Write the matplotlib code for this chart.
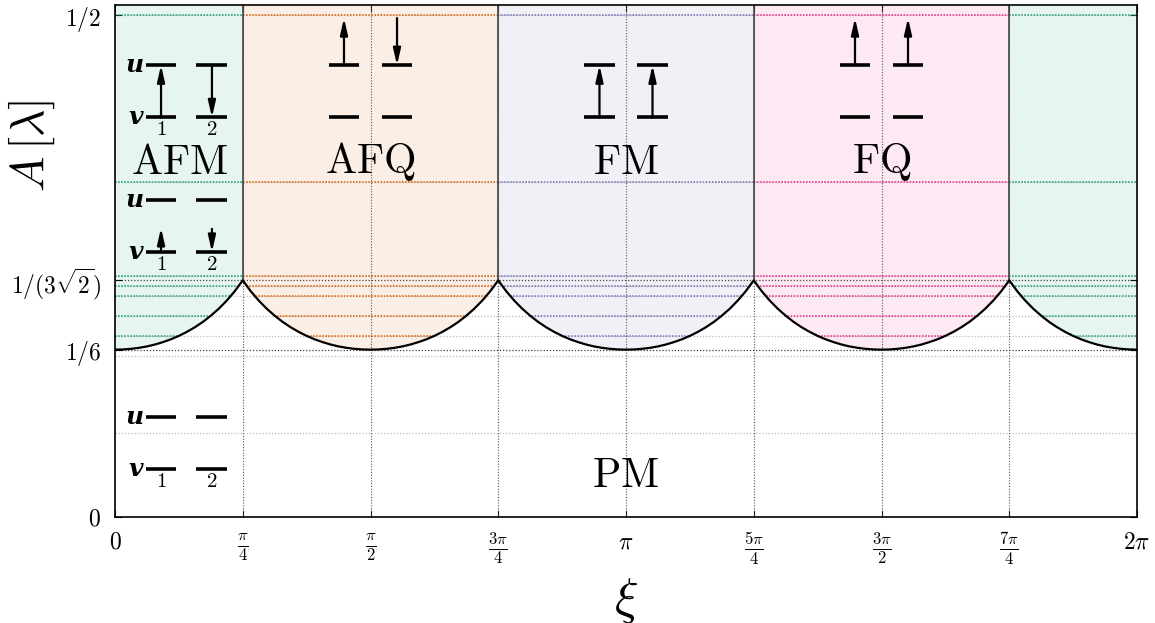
import numpy as np
import matplotlib.pyplot as plt
from matplotlib.patches import Polygon

plt.rcParams['mathtext.fontset'] = 'cm'
plt.rcParams['font.family'] = 'DejaVu Serif'

PI = np.pi

# === Data ===
# boundary A(xi) on one rising arc, xi = 0 .. pi/4 (step pi/64)
arc_A = [0.1667, 0.1669, 0.1675, 0.1685, 0.1699, 0.1718, 0.1742, 0.1770,
         0.1804, 0.1844, 0.1890, 0.1943, 0.2005, 0.2075, 0.2156, 0.2249, 0.2357]

xticks = [0, PI/4, PI/2, 3*PI/4, PI, 5*PI/4, 3*PI/2, 7*PI/4, 2*PI]
xtick_labels = [r'$0$', r'$\frac{\pi}{4}$', r'$\frac{\pi}{2}$', r'$\frac{3\pi}{4}$', r'$\pi$',
                r'$\frac{5\pi}{4}$', r'$\frac{3\pi}{2}$', r'$\frac{7\pi}{4}$', r'$2\pi$']
yticks = [0, 1/6, 1/(3*np.sqrt(2)), 1/2]
ytick_labels = [r'$0$', r'$1/6$', r'$1/(3\sqrt{2})$', r'$1/2$']

# dotted levels inside the ordered phases
phase_levels = [0.5, 1/3, 0.240, 0.230, 0.220, 0.200, 0.180]
# extra grey grid levels
grey_levels = [1/12, 0.160, 0.180, 0.200, 0.220, 0.230, 0.240, 1/3, 0.5]
dark_levels = [1/6, 1/(3*np.sqrt(2))]

phase_names = ['AFM', 'AFQ', 'FM', 'FQ']
phase_spans = [[(0, PI/4), (7*PI/4, 2*PI)], [(PI/4, 3*PI/4)], [(3*PI/4, 5*PI/4)], [(5*PI/4, 7*PI/4)]]
phase_colors = ['#1b9e77', '#d95f02', '#7570b3', '#e7298a']
label_pos = [(0.40, 0.354), (PI/2, 0.354), (PI, 0.354), (3*PI/2, 0.354)]

YTOP = 0.51

# full boundary curve from the arc (rise to cusp, then mirror down), 4 periods
arc_x = np.linspace(0, PI/4, len(arc_A))
xs, ys = [], []
for k in range(4):
    x0 = k * PI/2
    xs += list(x0 + arc_x) + list(x0 + PI/2 - arc_x[::-1])[1:]
    ys += list(arc_A) + list(arc_A[::-1])[1:]
xs = np.array(xs); ys = np.array(ys)

fig = plt.figure(figsize=(11.55, 6.23), dpi=100)
ax = fig.add_axes([115/1155, 1 - 517/623, 1022/1155, 512/623])
ax.set_xlim(0, 2*PI)
ax.set_ylim(0, YTOP)

# grid
for x in xticks[1:-1]:
    ax.axvline(x, color='#555555', ls=(0, (1, 1.5)), lw=0.8, zorder=3)
for y in grey_levels:
    ax.axhline(y, color='#bbbbbb', ls=(0, (1, 1.5)), lw=0.9, zorder=1)
for y in dark_levels:
    ax.axhline(y, color='#444444', ls=(0, (1, 1.5)), lw=0.9, zorder=1)

# phases
for name, spans, col in zip(phase_names, phase_spans, phase_colors):
    for a, b in spans:
        m = (xs >= a - 1e-9) & (xs <= b + 1e-9)
        verts = list(zip(xs[m], ys[m])) + [(b, YTOP), (a, YTOP)]
        poly = Polygon(verts, closed=True, facecolor=col, alpha=0.1, edgecolor='none', zorder=2)
        ax.add_patch(poly)
        clip = Polygon(verts, closed=True, transform=ax.transData)
        lc = ax.hlines(phase_levels, a, b, colors=col, linestyles=(0, (1, 1)), lw=1.1, zorder=2.5)
        lc.set_clip_path(clip)

# phase borders
for x in [PI/4, 3*PI/4, 5*PI/4, 7*PI/4]:
    ax.plot([x, x], [1/(3*np.sqrt(2)), YTOP], color='#444444', lw=1.2, zorder=3)

ax.plot(xs, ys, color='black', lw=1.6, zorder=4)

for name, (lx, ly) in zip(phase_names, label_pos):
    ax.text(lx, ly, r'$\mathrm{%s}$' % name, fontsize=30, ha='center', va='center', zorder=5)
ax.text(PI, 0.042, r'$\mathrm{PM}$', fontsize=30, ha='center', va='center', zorder=5)

# level diagrams
HW = 0.095
ARW = dict(arrowstyle='-|>,head_width=0.16,head_length=0.7', color='black', lw=1.6,
           shrinkA=0, shrinkB=0, mutation_scale=14)


def bars(xc, y):
    for x in xc:
        ax.plot([x - HW, x + HW], [y, y], color='black', lw=2.6, solid_capstyle='butt', zorder=6)


def arrow(x, y0, y1):
    ax.annotate('', xy=(x, y1), xytext=(x, y0), arrowprops=ARW, zorder=6)


def uv_labels(xc, yu, yv):
    ax.text(xc[0] - HW - 0.015, yu, 'u', fontsize=18, style='italic', weight='bold',
            ha='right', va='center', family='DejaVu Serif', zorder=6)
    ax.text(xc[0] - HW - 0.015, yv, 'v', fontsize=18, style='italic', weight='bold',
            ha='right', va='center', family='DejaVu Serif', zorder=6)
    for x, n in zip(xc, ['1', '2']):
        ax.text(x, yv - 0.012, r'$%s$' % n, fontsize=15, ha='center', va='center', zorder=6)


afm = [0.283, 0.596]
bars(afm, 0.450); bars(afm, 0.398)
arrow(afm[0], 0.398, 0.450); arrow(afm[1], 0.450, 0.398)
uv_labels(afm, 0.450, 0.398)

bars(afm, 0.3157); bars(afm, 0.2639)
arrow(afm[0], 0.2639, 0.2880); arrow(afm[1], 0.2870, 0.2639)
uv_labels(afm, 0.3157, 0.2639)

bars(afm, 0.0996); bars(afm, 0.0478)
uv_labels(afm, 0.0996, 0.0478)

d = 0.163
afq = [PI/2 - d, PI/2 + d]
bars(afq, 0.450); bars(afq, 0.398)
arrow(afq[0], 0.450, 0.497); arrow(afq[1], 0.497, 0.450)

fm = [PI - d, PI + d]
bars(fm, 0.450); bars(fm, 0.398)
arrow(fm[0], 0.398, 0.450); arrow(fm[1], 0.398, 0.450)

fq = [3*PI/2 - d, 3*PI/2 + d]
bars(fq, 0.450); bars(fq, 0.398)
arrow(fq[0], 0.450, 0.497); arrow(fq[1], 0.450, 0.497)

# axes
ax.set_xticks(xticks)
ax.set_xticklabels(xtick_labels, fontsize=17)
ax.set_yticks(yticks)
ax.set_yticklabels(ytick_labels, fontsize=17)
ax.tick_params(direction='in', length=5, top=True, right=True, pad=10)
for s in ax.spines.values():
    s.set_linewidth(1.2)
    s.set_zorder(7)

ax.set_xlabel(r'$\xi$', fontsize=36)
ax.xaxis.set_label_coords(0.5, -0.115)
ax.set_ylabel(r'$A\,[\lambda]$', fontsize=34)
ax.yaxis.set_label_coords(-0.057, 0.725)

fig.savefig('out.png', dpi=100)
